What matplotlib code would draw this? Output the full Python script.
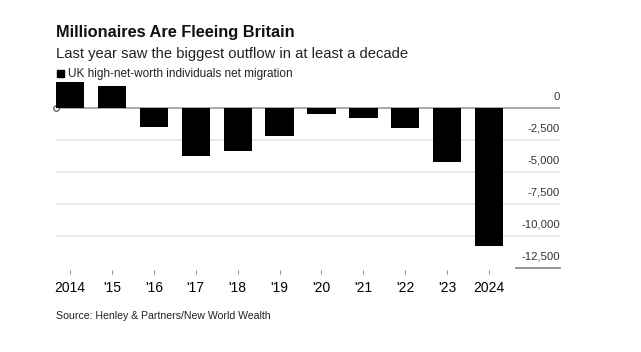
import matplotlib.pyplot as plt
from matplotlib.patches import Rectangle
import matplotlib.transforms as mtransforms

plt.rcParams['font.family'] = ['Liberation Sans', 'DejaVu Sans']

years = ['2014', "'15", "'16", "'17", "'18", "'19", "'20", "'21", "'22", "'23", '2024']
net_migration = [2000, 1700, -1500, -3800, -3400, -2200, -500, -800, -1600, -4200, -10800]
y_ticks = [0, -2500, -5000, -7500, -10000, -12500]
y_labels = ['0', '-2,500', '-5,000', '-7,500', '-10,000', '-12,500']

W, H = 641, 352
fig = plt.figure(figsize=(W / 100, H / 100), dpi=100)
ax = fig.add_axes([56 / W, 1 - 268 / H, 504 / W, 192.4 / H])

x = list(range(len(years)))
ax.bar(x, net_migration, width=0.675, color='black', zorder=3)
ax.set_xlim(-0.334, 11.69)
ax.set_ylim(-12500, 2500)

# gridlines and zero line
for v in y_ticks[1:-1]:
    ax.axhline(v, color='#e6e6e6', lw=1.3, zorder=1)
ax.axhline(0, color='#9a9a9a', lw=1.2, zorder=2)
trans = mtransforms.blended_transform_factory(ax.transAxes, ax.transData)
ax.plot([0.912, 1.0], [-12500, -12500], color='#8a8a8a', lw=1.3,
        transform=trans, clip_on=False)
ax.plot([-0.334], [0], 'o', ms=4, mfc='white', mec='#444', mew=0.8,
        zorder=2, clip_on=False)

for v, lab in zip(y_ticks, y_labels):
    ax.annotate(lab, xy=(1.0, v), xycoords=trans, xytext=(0, 8),
                textcoords='offset points', ha='right', va='center',
                fontsize=8.2, color='#333')

ax.set_yticks([])
ax.set_xticks(x)
ax.set_xticklabels(years, fontsize=8.3, color='#333')
ax.tick_params(axis='x', length=3, width=0.7, color='#888', pad=4.5)
for s in ['top', 'right', 'left']:
    ax.spines[s].set_visible(False)
ax.spines['bottom'].set_position(('outward', 1.5))
ax.spines['bottom'].set_visible(False)
ax.patch.set_alpha(0)

fig.text(56 / W, 1 - 36.7 / H, 'Millionaires Are Fleeing Britain',
         fontsize=11.8, fontweight='bold', va='baseline', ha='left', color='#111')
fig.text(56 / W, 1 - 58 / H, 'Last year saw the biggest outflow in at least a decade',
         fontsize=10.6, va='baseline', ha='left', color='#222')
fig.patches.append(Rectangle((57 / W, 1 - 77 / H), 7 / W, 7 / H,
                             transform=fig.transFigure, color='black'))
fig.text(68 / W, 1 - 77 / H, 'UK high-net-worth individuals net migration',
         fontsize=8.5, va='baseline', ha='left', color='#222')
fig.text(56 / W, 1 - 319 / H, 'Source: Henley & Partners/New World Wealth',
         fontsize=7.6, va='baseline', ha='left', color='#222')

fig.savefig('out.png', dpi=100, facecolor='white')
